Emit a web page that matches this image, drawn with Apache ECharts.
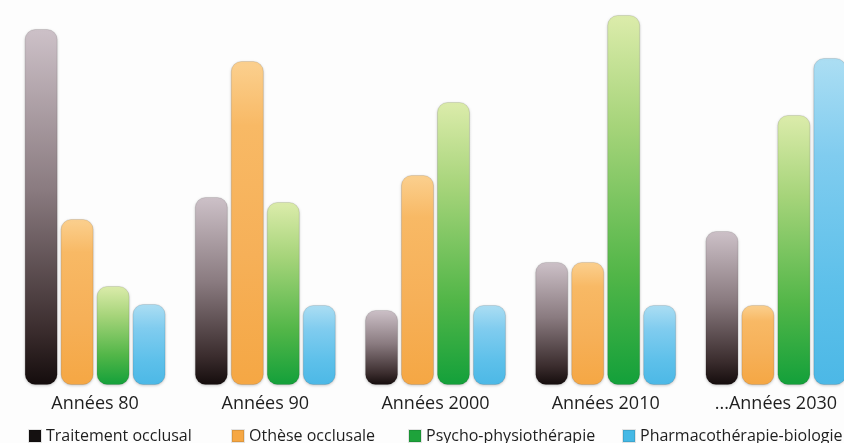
<!DOCTYPE html>
<html>
<head>
<meta charset="utf-8">
<script src="https://cdn.jsdelivr.net/npm/echarts@6/dist/echarts.min.js"></script>
<style>
html,body{margin:0;padding:0;background:#fdfdfd;}
#chart{width:844px;height:443px;}
</style>
</head>
<body>
<div id="chart"></div>
<script>
const categories = ['Années 80', 'Années 90', 'Années 2000', 'Années 2010', '...Années 2030'];
const seriesNames = ['Traitement occlusal', 'Othèse occlusale', 'Psycho-physiothérapie', 'Pharmacothérapie-biologie'];
const traitementOcclusal = [356, 188, 75, 123, 154];
const otheseOcclusale = [166, 324, 210, 123, 80];
const psychoPhysio = [99, 183, 283, 370, 270];
const pharmacoBio = [81, 80, 80, 80, 327];

const fontFamily = '"Open Sans", "Noto Sans", sans-serif';
const gradients = [
  [['#cdc1c8', 0], ['#8a7b80', 0.45], ['#3a2c2d', 0.85], ['#140c0c', 1]],
  [['#fbd08f', 0], ['#f8b965', 0.2], ['#f6b058', 0.6], ['#f5a744', 1]],
  [['#dcecab', 0], ['#a6d47a', 0.3], ['#52b648', 0.7], ['#13a03a', 1]],
  [['#acdef3', 0], ['#80ccef', 0.3], ['#5dc0ea', 0.7], ['#4cb8e6', 1]]
];
const legendColors = ['#141010', '#f6a743', '#1ea33b', '#45b9e6'];
const legendLefts = [28, 231, 408, 622];

function grad(stops) {
  return new echarts.graphic.LinearGradient(0, 0, 0, 1,
    stops.map(s => ({ offset: s[1], color: s[0] })));
}

const data = [traitementOcclusal, otheseOcclusale, psychoPhysio, pharmacoBio];

const chart = echarts.init(document.getElementById('chart'), null, { renderer: 'canvas' });
chart.setOption({
  backgroundColor: '#fdfdfd',
  animation: false,
  textStyle: { fontFamily: fontFamily },
  grid: { left: 10, top: 15, bottom: 58, width: 851, containLabel: false, outerBoundsMode: 'none' },
  xAxis: {
    type: 'category',
    data: categories,
    axisLine: { show: false },
    axisTick: { show: false },
    axisLabel: { color: '#1e1e1e', fontSize: 18, margin: 10, fontFamily: fontFamily }
  },
  yAxis: {
    type: 'value', min: 0, max: 370,
    show: false, splitLine: { show: false }
  },
  legend: seriesNames.map((n, i) => ({
    data: [{ name: n, itemStyle: { color: legendColors[i] } }],
    left: legendLefts[i], top: 428,
    icon: 'rect', itemWidth: 12, itemHeight: 12,
    padding: 0,
    textStyle: { fontSize: 16, color: '#1e1e1e', fontFamily: fontFamily }
  })),
  series: seriesNames.map((n, i) => ({
    name: n,
    type: 'bar',
    data: data[i],
    barWidth: 33,
    barGap: '9%',
    itemStyle: {
      color: grad(gradients[i]),
      borderRadius: 10,
      borderColor: 'rgba(0,0,0,0.1)',
      borderWidth: 1,
      shadowBlur: 3,
      shadowColor: 'rgba(0,0,0,0.22)',
      shadowOffsetY: 1
    }
  }))
});
</script>
</body>
</html>
